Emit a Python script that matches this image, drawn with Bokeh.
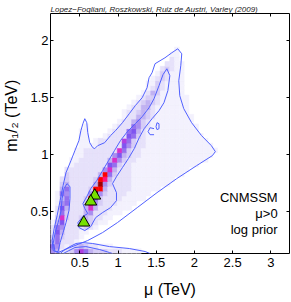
from bokeh.plotting import figure
from bokeh.models import Range1d, LinearAxis, FixedTicker, Label, ColumnDataSource
from bokeh.embed import file_html
from bokeh.resources import INLINE

# ---------------- data ----------------
x_ticks = [0.5, 1, 1.5, 2, 2.5, 3]
x_tick_labels = ["0.5", "1", "1.5", "2", "2.5", "3"]
y_ticks = [0.5, 1, 1.5, 2]
y_tick_labels = ["0.5", "1", "1.5", "2"]

mu_min, mu_max = 0.115, 3.245
m12_min, m12_max = 0.1355, 2.2355
mu_bin = 0.0625
m12_bin = 0.042

# posterior histogram, one entry per m12 row (bottom row first):
# first mu column of the row, then one intensity code per column ('.' = empty)
row_start = [0, 0, 0, 0, 0, 0, 0, 1, 1, 1, 1, 1, 1, 2, 2, 2, 3, 3, 4, 4, 5, 5,
             6, 6, 6, 6, 7, 14, 15, 15, 16, 17, 18, 19, 20, 20, 21, 22, 23, 24, 25, 25, 26]
row_codes = [
    "5412358643332221111",
    "6521234322111",
    "462221",
    "3632221",
    "27422211",
    "2652222321",
    "147222343211",
    "393223432211",
    "26322245222111",
    "2742224942221111",
    "1562223A532221111",
    "1462223B63222211111",
    "16522225D53222211111",
    "4622223BB422222111111",
    "34222224C53222211111111",
    "23222223BA42222111111111",
    "32222224B6322211111111111",
    "22222222594222111111111111",
    "122222227632211111111111111",
    "11222222495322111111111111111",
    "11222222574322111111111111111",
    "112222222963221111111111111111",
    "1111222227532211111111111111",
    "11.122222863221111111111111",
    "11...122227632111111111111",
    "11....1222674211111111111",
    "1.....122265321111111111",
    "1224532111111111",
    "122443211111111",
    "12234321111111",
    "1224421111111",
    "123432111111",
    "12332111111",
    "124311111",
    "12321111",
    "11321111",
    "1232111",
    "132111",
    "23211",
    "2211",
    "21",
    "11",
    "1",
]
level_colors = {
    "1": "#f3f1fd", "2": "#e6e1fa", "3": "#d6cdf6", "4": "#c1b2f2",
    "5": "#a98ef0", "6": "#9470ee", "7": "#7f55f0", "8": "#b040e0",
    "9": "#d830c8", "A": "#ff1480", "B": "#ff0000", "C": "#a00000",
    "D": "#300000",
}

outer_mu = [1.782, 1.834, 1.821, 1.795, 1.808, 1.860, 1.963, 2.093, 2.222, 2.274,
            2.235, 2.028, 1.769, 1.510, 1.251, 0.992, 0.798, 0.603, 0.435, 0.305,
            0.215, 0.150, 0.137, 0.163, 0.202, 0.241, 0.280, 0.318, 0.383, 0.435,
            0.487, 0.513, 0.539, 0.564, 0.590, 0.603, 0.629, 0.668, 0.694, 0.733,
            0.824, 0.901, 0.966, 1.057, 1.147, 1.225, 1.316, 1.380, 1.406, 1.445,
            1.484, 1.549, 1.614, 1.704, 1.782]
outer_m12 = [1.927, 1.883, 1.778, 1.647, 1.516, 1.403, 1.280, 1.167, 1.079, 1.027,
             0.992, 0.904, 0.791, 0.668, 0.537, 0.406, 0.319, 0.249, 0.205, 0.170,
             0.144, 0.161, 0.249, 0.354, 0.467, 0.598, 0.730, 0.843, 0.948, 1.036,
             1.123, 1.210, 1.271, 1.315, 1.280, 1.193, 1.105, 1.062, 1.053, 1.079,
             1.105, 1.167, 1.210, 1.280, 1.359, 1.429, 1.499, 1.586, 1.674, 1.717,
             1.796, 1.822, 1.848, 1.892, 1.927]

inner_mu = [1.639, 1.678, 1.652, 1.601, 1.536, 1.445, 1.342, 1.277, 1.212, 1.135,
            1.057, 0.979, 0.927, 0.979, 0.979, 0.901, 0.798, 0.707, 0.642, 0.564,
            0.487, 0.474, 0.539, 0.603, 0.564, 0.539, 0.590, 0.642, 0.720, 0.798,
            0.875, 0.953, 1.031, 1.122, 1.225, 1.316, 1.406, 1.471, 1.536, 1.588, 1.639]
inner_m12 = [1.752, 1.691, 1.560, 1.455, 1.385, 1.315, 1.228, 1.149, 1.053, 0.966,
             0.887, 0.808, 0.747, 0.668, 0.598, 0.537, 0.494, 0.450, 0.371, 0.336,
             0.363, 0.406, 0.459, 0.485, 0.529, 0.572, 0.633, 0.703, 0.773, 0.861,
             0.948, 1.036, 1.123, 1.202, 1.271, 1.333, 1.411, 1.490, 1.604, 1.700, 1.752]

loop_a_mu = [1.510, 1.536, 1.536, 1.510, 1.497, 1.510]
loop_a_m12 = [1.280, 1.271, 1.228, 1.219, 1.245, 1.280]
loop_b_mu = [1.471, 1.419, 1.393, 1.419, 1.471]
loop_b_m12 = [1.228, 1.236, 1.202, 1.175, 1.175]

left_mu = [0.176, 0.150, 0.176, 0.215, 0.254, 0.267, 0.292, 0.331, 0.370, 0.370,
           0.357, 0.318, 0.280, 0.241, 0.215, 0.176]
left_m12 = [0.153, 0.223, 0.319, 0.406, 0.511, 0.616, 0.703, 0.747, 0.721, 0.616,
            0.511, 0.406, 0.319, 0.231, 0.153, 0.153]

bottom_outer_mu = [0.241, 0.305, 0.370, 0.448, 0.539, 0.668, 0.888, 1.147, 1.354, 1.419]
bottom_outer_m12 = [0.135, 0.170, 0.196, 0.223, 0.231, 0.223, 0.196, 0.179, 0.153, 0.135]
bottom_inner_mu = [0.280, 0.357, 0.435, 0.578, 0.759, 0.888, 0.927]
bottom_inner_m12 = [0.135, 0.161, 0.188, 0.196, 0.170, 0.144, 0.135]

best_fit_mu = [0.694, 0.642, 0.551]
best_fit_m12 = [0.642, 0.590, 0.406]

title_text = "Lopez\u2212Fogliani, Roszkowski, Ruiz de Austri, Varley (2009)"
x_label = "\u03bc (TeV)"
y_label = "m\u2081/\u2082 (TeV)"
note_lines = ["CNMSSM", "\u03bc>0", "log prior"]

# ---------------- figure ----------------
FONT = "Liberation Sans"
p = figure(width=291, height=302,
           x_range=Range1d(mu_min, mu_max), y_range=Range1d(m12_min, m12_max),
           output_backend="svg", toolbar_location=None,
           min_border_left=47, min_border_right=2, min_border_top=13, min_border_bottom=49)
p.xgrid.visible = False
p.ygrid.visible = False
p.outline_line_color = "black"
p.outline_line_width = 1
p.background_fill_color = "white"
p.border_fill_color = "white"

p.title.text = title_text
p.title.text_font = FONT
p.title.text_font_style = "italic"
p.title.text_font_size = "8px"
p.title.text_color = "#222222"
p.title.align = "left"
p.title.standoff = 0
p.title.offset = 0

cx, cy, cc = [], [], []
for j, (s, codes) in enumerate(zip(row_start, row_codes)):
    for k, ch in enumerate(codes):
        if ch == ".":
            continue
        i = s + k
        cx.append(mu_min + (i + 0.5) * mu_bin)
        cy.append(m12_min + (j + 0.5) * m12_bin)
        cc.append(level_colors[ch])
src = ColumnDataSource(dict(x=cx, y=cy, c=cc))
p.rect(x="x", y="y", width=mu_bin, height=m12_bin, fill_color="c", line_color="c",
       line_width=0.6, source=src)

CONTOUR = "#5060ff"
for xs, ys in [(outer_mu, outer_m12), (inner_mu, inner_m12), (loop_a_mu, loop_a_m12),
               (loop_b_mu, loop_b_m12), (left_mu, left_m12),
               (bottom_outer_mu, bottom_outer_m12), (bottom_inner_mu, bottom_inner_m12)]:
    p.line(xs, ys, line_color=CONTOUR, line_width=1)

p.scatter(best_fit_mu, best_fit_m12, marker="triangle", size=12,
          fill_color="#77e000", line_color="black", line_width=1)

# axes
def style_axis(ax, ticks, labels, show_labels, standoff):
    ax.ticker = FixedTicker(ticks=ticks)
    ax.axis_line_color = None
    ax.major_tick_in = 3
    ax.major_tick_out = 0
    ax.minor_tick_in = 0
    ax.minor_tick_out = 0
    ax.major_tick_line_color = "black"
    if show_labels:
        ax.major_label_overrides = {t: l for t, l in zip(ticks, labels)}
        ax.major_label_text_font = FONT
        ax.major_label_text_font_size = "13px"
        ax.major_label_text_color = "black"
        ax.major_label_standoff = standoff
    else:
        ax.major_label_overrides = {t: "" for t in ticks}
        ax.major_label_text_font_size = "0px"
        ax.major_label_standoff = 0

bottom_ax = p.xaxis[0]
left_ax = p.yaxis[0]
style_axis(bottom_ax, x_ticks, x_tick_labels, True, 4)
style_axis(left_ax, y_ticks, y_tick_labels, True, 2)
top_ax = LinearAxis()
style_axis(top_ax, x_ticks, x_tick_labels, False, 0)
p.add_layout(top_ax, "above")
right_ax = LinearAxis()
style_axis(right_ax, y_ticks, y_tick_labels, False, 0)
p.add_layout(right_ax, "right")

bottom_ax.axis_label = x_label
left_ax.axis_label = "\u00a0" * 8 + y_label
for ax, sof in [(bottom_ax, 11), (left_ax, 7)]:
    ax.axis_label_text_font = FONT
    ax.axis_label_text_font_size = "16px"
    ax.axis_label_text_font_style = "normal"
    ax.axis_label_text_color = "black"
    ax.axis_label_standoff = sof

for txt, yy in zip(note_lines, [0.625, 0.485, 0.345]):
    p.add_layout(Label(x=3.09, y=yy, text=txt, text_font=FONT, text_font_size="13px",
                       text_align="right", text_baseline="middle", text_color="black"))

open("out.html", "w").write(file_html(p, INLINE))
